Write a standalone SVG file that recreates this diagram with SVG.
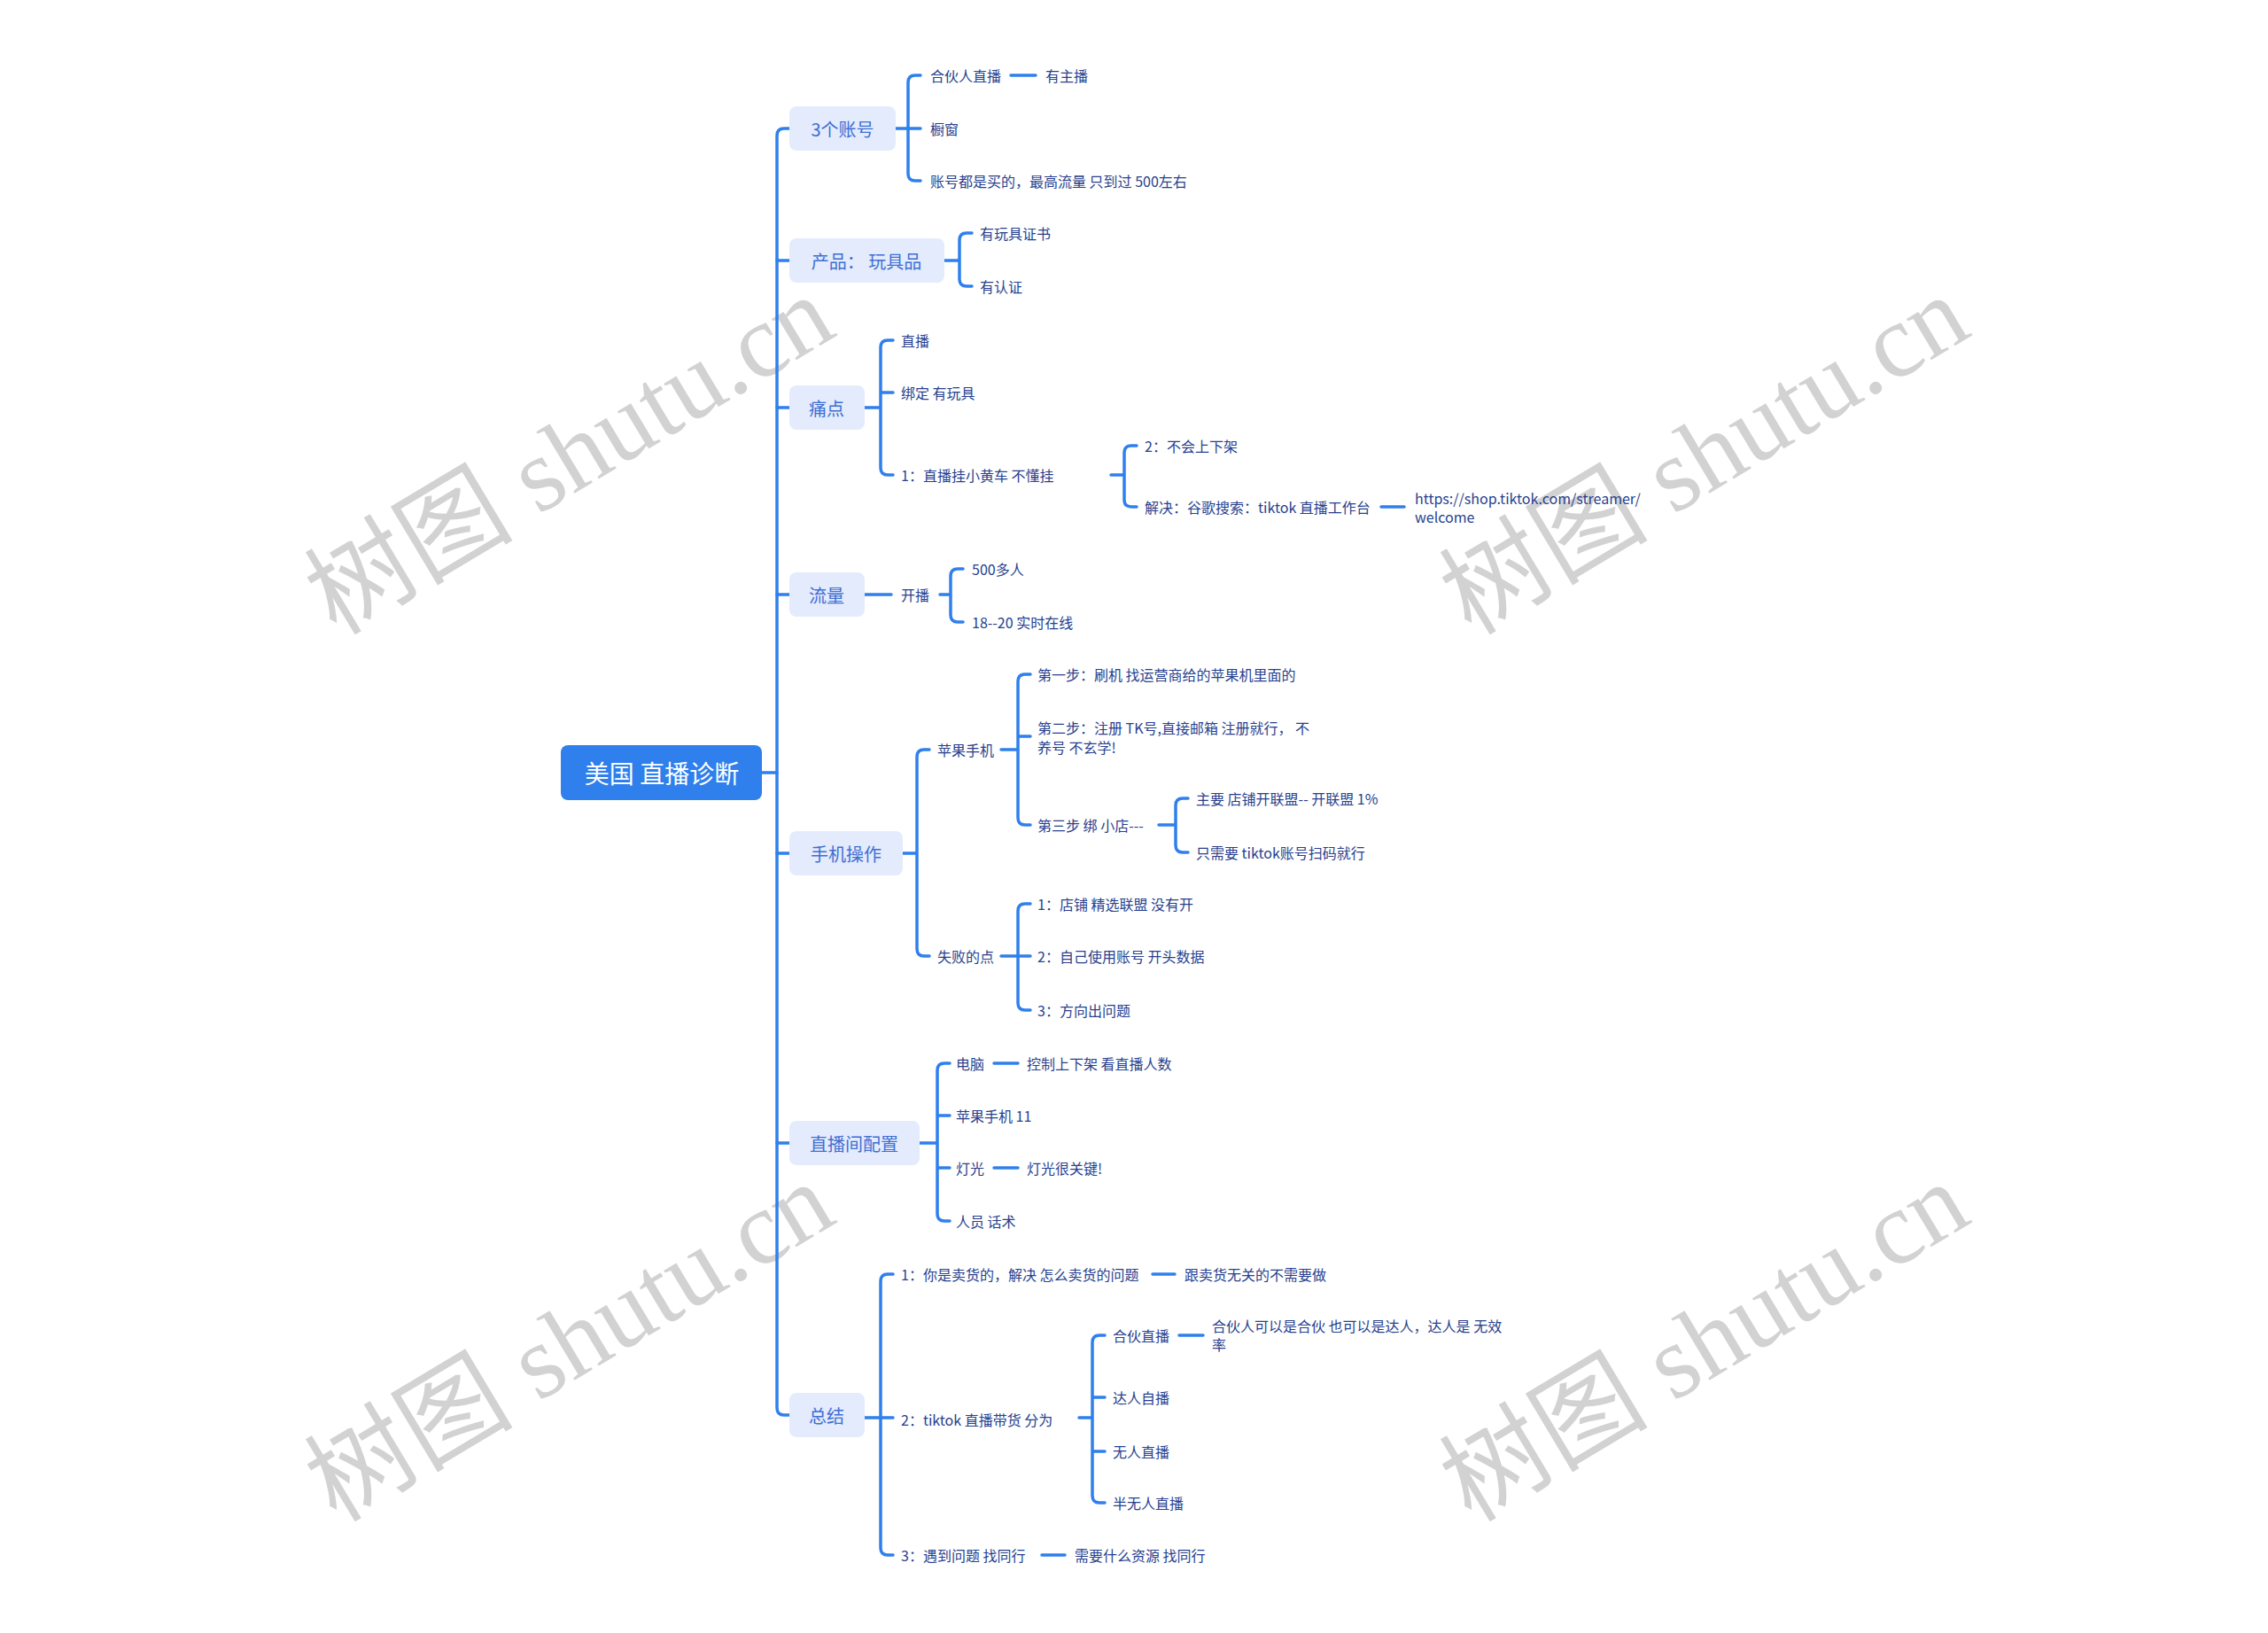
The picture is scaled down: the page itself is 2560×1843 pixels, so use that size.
<svg xmlns="http://www.w3.org/2000/svg" width="2560" height="1843" viewBox="0 0 2560 1843">
<style>
.bg{fill:#ffffff}
.wm{font-family:"Liberation Serif","Noto Sans CJK SC",serif;font-size:118px;fill:#d2d2d2;text-anchor:middle;dominant-baseline:central}
.ln{fill:none;stroke:#2f80ed;stroke-width:3.5;stroke-linecap:round;stroke-linejoin:round}
.root rect{fill:#2f7fec}
.root text{fill:#ffffff;font-family:"Noto Sans CJK SC","Noto Sans",sans-serif;font-size:28px;text-anchor:middle;dominant-baseline:central}
.l1 rect{fill:#e3ebfd}
.l1 text{fill:#3f6fd3;font-family:"Noto Sans CJK SC","Noto Sans",sans-serif;font-size:20px;text-anchor:middle;dominant-baseline:central}
.t{fill:#283f8e;font-family:"Noto Sans CJK SC","Noto Sans",sans-serif;font-size:16px;dominant-baseline:central}
</style>
<rect class="bg" x="0" y="0" width="2560" height="1843"/>
<g id="watermarks">
<text class="wm" x="643" y="514" transform="rotate(-31 643 514)">树图 shutu.cn</text>
<text class="wm" x="1924" y="514" transform="rotate(-31 1924 514)">树图 shutu.cn</text>
<text class="wm" x="643" y="1515" transform="rotate(-31 643 1515)">树图 shutu.cn</text>
<text class="wm" x="1924" y="1515" transform="rotate(-31 1924 1515)">树图 shutu.cn</text>
</g>
<g id="connectors">
<path class="ln" d="M860 872 H877"/>
<path class="ln" d="M891 145 H885 Q877 145 877 153 V1589 Q877 1597 885 1597 H891"/>
<path class="ln" d="M877 294 H891 M877 460 H891 M877 671 H891 M877 963 H891 M877 1290 H891"/>
<!-- 3个账号 -->
<path class="ln" d="M1011 145 H1039 M1039 85 H1033 Q1025 85 1025 93 V196 Q1025 204 1033 204 H1039"/>
<path class="ln" d="M1141 85 H1169"/>
<!-- 产品 -->
<path class="ln" d="M1066 294 H1083 M1097 263 H1091 Q1083 263 1083 271 V315 Q1083 323 1091 323 H1097"/>
<!-- 痛点 -->
<path class="ln" d="M976 460 H994 M994 443 H1008 M1008 384 H1002 Q994 384 994 392 V528 Q994 536 1002 536 H1008"/>
<path class="ln" d="M1254 536 H1269 M1283 503 H1277 Q1269 503 1269 511 V564 Q1269 572 1277 572 H1283"/>
<path class="ln" d="M1559 572 H1585"/>
<!-- 流量 -->
<path class="ln" d="M976 671 H1006 M1061 671 H1073 M1087 642 H1081 Q1073 642 1073 650 V694 Q1073 702 1081 702 H1087"/>
<!-- 手机操作 -->
<path class="ln" d="M1019 963 H1035 M1049 846 H1043 Q1035 846 1035 854 V1071 Q1035 1079 1043 1079 H1049"/>
<path class="ln" d="M1130 846 H1149 M1149 831 H1163 M1163 761 H1157 Q1149 761 1149 769 V923 Q1149 931 1157 931 H1163"/>
<path class="ln" d="M1308 931 H1327 M1341 901 H1335 Q1327 901 1327 909 V954 Q1327 962 1335 962 H1341"/>
<path class="ln" d="M1130 1079 H1163 M1163 1020 H1157 Q1149 1020 1149 1028 V1132 Q1149 1140 1157 1140 H1163"/>
<!-- 直播间配置 -->
<path class="ln" d="M1038 1290 H1058 M1058 1259 H1072 M1058 1318 H1072 M1072 1200 H1066 Q1058 1200 1058 1208 V1370 Q1058 1378 1066 1378 H1072"/>
<path class="ln" d="M1122 1200 H1149 M1122 1318 H1149"/>
<!-- 总结 -->
<path class="ln" d="M976 1600 H1008 M1008 1438 H1002 Q994 1438 994 1446 V1747 Q994 1755 1002 1755 H1008"/>
<path class="ln" d="M1301 1438 H1326 M1176 1755 H1202"/>
<path class="ln" d="M1218 1600 H1233 M1233 1577 H1247 M1233 1638 H1247 M1247 1507 H1241 Q1233 1507 1233 1515 V1688 Q1233 1696 1241 1696 H1247"/>
<path class="ln" d="M1331 1507 H1358"/>
</g>
<g id="root" class="root"><rect x="633" y="841" width="227" height="62" rx="8"/><text x="747" y="872">美国 直播诊断</text></g>
<g id="n1" class="l1"><rect x="891" y="120" width="120" height="50" rx="8"/><text x="951" y="145">3个账号</text></g>
<g id="n2" class="l1"><rect x="891" y="269" width="175" height="50" rx="8"/><text x="978" y="294">产品： 玩具品</text></g>
<g id="n3" class="l1"><rect x="891" y="435" width="85" height="50" rx="8"/><text x="933" y="460">痛点</text></g>
<g id="n4" class="l1"><rect x="891" y="646" width="85" height="50" rx="8"/><text x="933" y="671">流量</text></g>
<g id="n5" class="l1"><rect x="891" y="938" width="128" height="50" rx="8"/><text x="955" y="963">手机操作</text></g>
<g id="n6" class="l1"><rect x="891" y="1265" width="147" height="50" rx="8"/><text x="964" y="1290">直播间配置</text></g>
<g id="n7" class="l1"><rect x="891" y="1572" width="85" height="50" rx="8"/><text x="933" y="1597">总结</text></g>
<g id="n1c">
<text class="t" x="1050" y="85">合伙人直播</text>
<text class="t" x="1180" y="85">有主播</text>
<text class="t" x="1050" y="145">橱窗</text>
<text class="t" x="1050" y="204">账号都是买的，最高流量 只到过 500左右</text>
</g>
<g id="n2c">
<text class="t" x="1106" y="263">有玩具证书</text>
<text class="t" x="1106" y="323">有认证</text>
</g>
<g id="n3c">
<text class="t" x="1017" y="384">直播</text>
<text class="t" x="1017" y="443">绑定 有玩具</text>
<text class="t" x="1017" y="536">1：直播挂小黄车 不懂挂</text>
<text class="t" x="1292" y="503">2：不会上下架</text>
<text class="t" x="1292" y="572">解决：谷歌搜索：tiktok 直播工作台</text>
<text class="t" x="1597" y="562">https://shop.tiktok.com/streamer/<tspan x="1597" y="583">welcome</tspan></text>
</g>
<g id="n4c">
<text class="t" x="1017" y="671">开播</text>
<text class="t" x="1097" y="642">500多人</text>
<text class="t" x="1097" y="702">18--20 实时在线</text>
</g>
<g id="n5c">
<text class="t" x="1058" y="846">苹果手机</text>
<text class="t" x="1171" y="761">第一步：刷机 找运营商给的苹果机里面的</text>
<text class="t" x="1171" y="821">第二步：注册 TK号,直接邮箱 注册就行， 不<tspan x="1171" y="843">养号 不玄学!</tspan></text>
<text class="t" x="1171" y="931">第三步 绑 小店---</text>
<text class="t" x="1350" y="901">主要 店铺开联盟-- 开联盟   1%</text>
<text class="t" x="1350" y="962">只需要 tiktok账号扫码就行</text>
<text class="t" x="1058" y="1079">失败的点</text>
<text class="t" x="1171" y="1020">1：店铺 精选联盟 没有开</text>
<text class="t" x="1171" y="1079">2：自己使用账号 开头数据</text>
<text class="t" x="1171" y="1140">3：方向出问题</text>
</g>
<g id="n6c">
<text class="t" x="1079" y="1200">电脑</text>
<text class="t" x="1159" y="1200">控制上下架 看直播人数</text>
<text class="t" x="1079" y="1259">苹果手机 11</text>
<text class="t" x="1079" y="1318">灯光</text>
<text class="t" x="1159" y="1318">灯光很关键!</text>
<text class="t" x="1079" y="1378">人员 话术</text>
</g>
<g id="n7c">
<text class="t" x="1017" y="1438">1：你是卖货的，解决 怎么卖货的问题</text>
<text class="t" x="1337" y="1438">跟卖货无关的不需要做</text>
<text class="t" x="1017" y="1602">2：tiktok 直播带货 分为</text>
<text class="t" x="1017" y="1755">3：遇到问题 找同行</text>
<text class="t" x="1213" y="1755">需要什么资源 找同行</text>
<text class="t" x="1256" y="1507">合伙直播</text>
<text class="t" x="1368" y="1496">合伙人可以是合伙 也可以是达人，达人是 无效<tspan x="1368" y="1517">率</tspan></text>
<text class="t" x="1256" y="1577">达人自播</text>
<text class="t" x="1256" y="1638">无人直播</text>
<text class="t" x="1256" y="1696">半无人直播</text>
</g>
</svg>
